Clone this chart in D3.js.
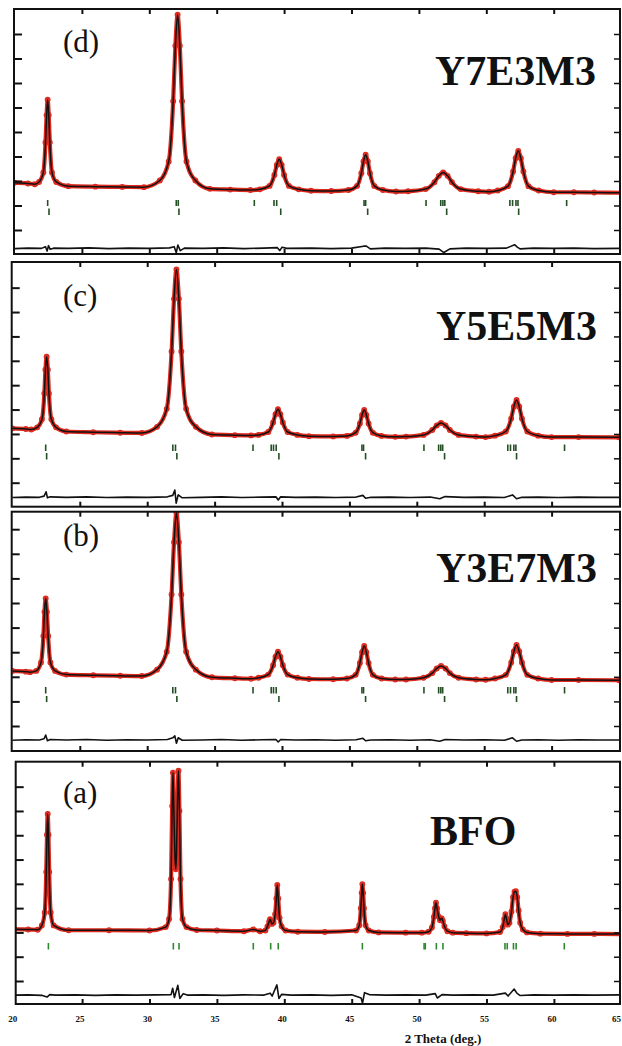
<!DOCTYPE html>
<html>
<head>
<meta charset="utf-8">
<script src="https://cdn.jsdelivr.net/npm/d3@7"></script>
<style>
  body { margin: 0; background: #fff; }
  svg { display: block; }
</style>
</head>
<body>
<svg id="chart" width="622" height="1046"></svg>
<script>
// ---- Labels and ticks ----
const panelTags = ["(d)", "(c)", "(b)", "(a)"];
const sampleNames = ["Y7E3M3", "Y5E5M3", "Y3E7M3", "BFO"];
const xTickValues = [20, 25, 30, 35, 40, 45, 50, 55, 60, 65];
const yTickValues = [0, 100, 200, 300, 400, 500, 600, 700, 800];
const xAxisTitle = "2 Theta (deg.)";

// ---- Profiles: [2θ (deg), intensity (a.u.)] ----
const profileD = [
  [20,193],[21,190],[21.5,187],
  [21.82,196],[22.14,235],[22.30,357],[22.38,469],[22.46,532],[22.54,469],[22.62,357],[22.78,235],[23.10,196],
  [24,179],[26,177],[28,176],[29.6,175],
  [30.78,202],[31.44,280],[31.77,526],[31.935,752],[32.1,879],[32.265,752],[32.43,526],[32.76,280],[33.42,202],
  [34.5,168],[36,165],[37.5,163],
  [38.2,166],[38.92,180],[39.28,225],[39.46,266],[39.64,289],[39.82,266],[40.0,225],[40.36,180],[41.08,166],
  [42,160],[43.5,159],
  [44.77,163],[45.41,180],[45.73,232],[45.89,280],[46.05,307],[46.21,280],[46.37,232],[46.69,180],[47.33,163],
  [48.3,157],
  [49.2,158],[50.5,167],[51.15,195],[51.48,221],[51.8,235],[52.13,221],[52.45,195],[53.1,167],[54.4,158],
  [55.2,156],
  [55.85,161],[56.61,179],[56.99,239],[57.18,293],[57.37,323],[57.56,293],[57.75,239],[58.13,179],[58.89,161],
  [60,154],[61.5,154],[63,153],[65,152]
];
const profileC = [
  [20,223],[21,220],[21.4,218],
  [21.84,227],[22.19,260],[22.37,366],[22.45,463],[22.54,517],[22.63,463],[22.71,366],[22.89,260],[23.24,227],
  [24,210],[26,207],[28,205],[29.6,204],
  [30.73,229],[31.45,303],[31.81,538],[31.99,754],[32.17,875],[32.35,754],[32.53,538],[32.89,303],[33.61,229],
  [34.8,198],[36.5,195],[37.7,194],
  [38.26,196],[38.98,208],[39.34,247],[39.52,281],[39.7,301],[39.88,281],[40.06,247],[40.42,208],[41.14,196],
  [42,191],[43.8,190],
  [44.82,192],[45.46,205],[45.78,243],[45.94,278],[46.1,298],[46.26,278],[46.42,243],[46.74,205],[47.38,192],
  [48.4,188],
  [49.2,189],[50.5,196],[51.15,216],[51.48,235],[51.8,245],[52.13,235],[52.45,216],[53.1,196],[54.4,189],
  [55.1,187],
  [55.8,193],[56.6,210],[57.0,263],[57.2,312],[57.4,339],[57.6,312],[57.8,263],[58.2,210],[59.0,193],
  [60,187],[62,187],[65,186]
];
const profileB = [
  [20,224],[21,221],[21.3,219],
  [21.77,224],[22.12,258],[22.30,366],[22.38,464],[22.47,519],[22.56,464],[22.65,366],[22.82,258],[23.17,224],
  [24,209],[26,206],[28,204],[29.6,203],
  [30.73,229],[31.45,302],[31.81,535],[31.99,747],[32.17,867],[32.35,747],[32.53,535],[32.89,302],[33.61,229],
  [34.8,198],[36.5,194],[37.7,192],
  [38.26,196],[38.98,209],[39.34,247],[39.52,282],[39.7,302],[39.88,282],[40.06,247],[40.42,209],[41.14,196],
  [42,191],[43.8,190],
  [44.82,193],[45.46,208],[45.78,256],[45.94,300],[46.1,325],[46.26,300],[46.42,256],[46.74,208],[47.38,193],
  [48.4,189],
  [49.2,189],[50.5,196],[51.15,215],[51.48,234],[51.8,244],[52.13,234],[52.45,215],[53.1,196],[54.4,189],
  [55.1,188],
  [55.8,193],[56.6,208],[57.0,258],[57.2,303],[57.4,329],[57.6,303],[57.8,258],[58.2,208],[59.0,193],
  [60,187],[62,187],[65,186]
];
const profileA = [
  [20,213],[21,212],[21.7,211],
  [22.01,229],[22.23,282],[22.34,449],[22.395,602],[22.45,688],[22.505,602],[22.56,449],[22.67,282],[22.89,229],
  [24,209],[27,209],[30,208],
  [31.2,222],[31.45,255],[31.6,420],[31.68,720],[31.74,858],[31.8,720],[31.9,500],[31.95,460],[32.0,520],
  [32.08,750],[32.15,866],[32.22,700],[32.3,420],[32.45,255],[32.75,222],
  [33.5,210],[35,208],[37,205],[37.7,212],[38.2,205],
  [38.6,208],[38.75,225],[38.88,245],[38.94,254],[39.0,248],[39.08,235],[39.2,240],[39.32,275],[39.41,340],
  [39.48,395],[39.55,340],[39.65,260],[39.8,225],[40.1,208],
  [41,203],[43,202],
  [45.32,208],[45.56,230],[45.68,300],[45.74,363],[45.79,399],[45.85,363],[45.91,300],[46.03,230],[46.27,208],
  [47,200],[49,199],[50.2,199],
  [50.7,203],[50.95,220],[51.1,265],[51.18,300],[51.25,322],[51.33,300],[51.45,265],[51.55,250],[51.62,256],
  [51.68,258],[51.76,248],[51.88,225],[52.1,205],[52.5,199],
  [53.5,197],[55,196],
  [56.0,202],[56.2,222],[56.32,255],[56.4,275],[56.48,258],[56.58,232],[56.7,240],[56.85,285],[56.97,345],
  [57.08,368],[57.18,370],[57.28,345],[57.38,290],[57.5,240],[57.7,212],[58.0,200],
  [59,195],[61,194],[63,194],[65,193]
];

// ---- Difference curves (obs - calc, offset) ----
const diffD = [
  [20,-76],[21,-74],[22,-75],[22.3,-68],[22.42,-86],[22.52,-64],[22.65,-79],[22.9,-74],[24,-75],[25.5,-73],
  [27,-76],[28.5,-74],[30,-75],[31.5,-73],[31.85,-68],[32.0,-93],[32.12,-61],[32.3,-84],[32.6,-74],[34,-75],
  [35.5,-73],[37,-76],[38.5,-74],[39.5,-72],[39.68,-84],[39.85,-70],[40.2,-75],[42,-74],[43.5,-76],[45,-74],
  [45.9,-66],[46.1,-66],[46.4,-77],[47.5,-74],[49,-75],[50.5,-74],[51.5,-78],[51.85,-92],[52.3,-77],[53.5,-74],
  [55,-75],[56.5,-74],[57.1,-60],[57.3,-70],[57.5,-77],[58.5,-74],[60,-75],[61.5,-74],[63,-76],[65,-75]
];
const diffC = [
  [20,-61],[21,-59],[22,-60],[22.35,-55],[22.5,-37],[22.6,-62],[22.8,-58],[24,-60],[25.5,-58],[27,-61],
  [28.5,-59],[30,-60],[31.5,-58],[31.9,-52],[32.05,-30],[32.15,-84],[32.3,-50],[32.6,-62],[34,-60],[35.5,-58],
  [37,-61],[38.5,-59],[39.55,-58],[39.72,-71],[39.9,-58],[41,-60],[42.5,-59],[44,-61],[45.5,-59],[46.0,-52],
  [46.2,-64],[46.6,-60],[48,-59],[49.5,-61],[51,-59],[51.7,-66],[52.1,-57],[53.5,-60],[55,-59],[56.5,-61],
  [57.1,-50],[57.4,-66],[57.8,-60],[59,-59],[60.5,-61],[62,-59],[63.5,-60],[65,-60]
];
const diffB = [
  [20,-58],[21,-56],[22,-57],[22.35,-52],[22.47,-37],[22.6,-60],[22.8,-55],[24,-57],[25.5,-55],[27,-58],
  [28.5,-56],[30,-57],[31.5,-55],[31.9,-48],[32.05,-40],[32.17,-70],[32.3,-48],[32.6,-58],[34,-57],[35.5,-55],
  [37,-58],[38.5,-56],[39.55,-55],[39.72,-65],[39.9,-55],[41,-57],[42.5,-56],[44,-58],[45.5,-56],[46.0,-50],
  [46.2,-60],[46.6,-57],[48,-56],[49.5,-58],[51,-56],[51.7,-62],[52.1,-55],[53.5,-57],[55,-56],[56.5,-58],
  [57.1,-48],[57.4,-62],[57.8,-57],[59,-56],[60.5,-58],[62,-56],[63.5,-57],[65,-57]
];
const diffA = [
  [20,-58],[21,-57],[22,-59],[22.4,-66],[22.6,-56],[23,-58],[24.5,-57],[26,-59],[27.5,-57],[29,-58],
  [30.5,-57],[31.6,-56],[31.72,-30],[31.85,-68],[32.1,-18],[32.25,-72],[32.5,-52],[32.8,-58],[34,-57],[35.5,-59],
  [37,-57],[38.5,-58],[38.95,-50],[39.1,-62],[39.45,-16],[39.6,-72],[39.8,-55],[40.5,-58],[42,-57],[43.5,-59],
  [45,-57],[45.7,-70],[45.8,-92],[45.95,-48],[46.3,-56],[47.5,-58],[49,-57],[50.5,-58],[51.2,-52],[51.35,-70],
  [51.7,-56],[52.5,-58],[54,-57],[55.5,-58],[56.4,-50],[56.6,-62],[57.05,-33],[57.25,-50],[57.5,-60],[58.5,-57],
  [60,-58],[61.5,-57],[63,-58],[65,-57]
];

// ---- Bragg reflection positions (2θ) ----
const braggD1 = [22.46,32.0,32.15,37.79,39.25,39.45,45.93,46.05,50.53,51.62,51.78,51.92,56.75,56.95,57.2,57.35,60.96];
const braggD2 = [22.56,32.2,39.75,46.2,52.06,57.4];
const braggC1 = [22.47,31.9,32.1,37.85,39.2,39.37,39.57,45.93,46.05,50.53,51.62,51.78,51.92,56.75,56.95,57.2,57.35,60.96];
const braggC2 = [22.54,32.2,39.77,46.2,52.06,57.4];
const braggB1 = [22.47,31.9,32.1,37.85,39.2,39.37,39.57,45.93,46.05,50.53,51.62,51.78,51.92,56.75,56.95,57.2,57.35,60.96];
const braggB2 = [22.54,32.2,39.77,46.2,52.06,57.4];
const braggA1 = [22.5,31.77,32.19,37.7,38.99,39.55,45.79,50.37,50.46,51.28,51.77,56.37,56.54,57.0,57.2,60.77];

// ---- Panel layout ----
const pxPerDeg = 13.48;
const panels = [
  { key: "d", tag: panelTags[0], name: sampleNames[0], profile: profileD, diff: diffD,
    bragg: [braggD1, braggD2], braggColor: "#244f24",
    frame: { l: 14, r: 620, t: 9, b: 254 }, x20: 14.5, tick0: 230, tickStep: 24.5,
    braggY: [[200, 206], [208.5, 215]], tagY: 52, nameX: 435, nameY: 85 },
  { key: "c", tag: panelTags[1], name: sampleNames[1], profile: profileC, diff: diffC,
    bragg: [braggC1, braggC2], braggColor: "#244f24",
    frame: { l: 11.7, r: 620, t: 262, b: 506.7 }, x20: 12.4, tick0: 482.7, tickStep: 24.38,
    braggY: [[444.5, 451], [453, 459.5]], tagY: 306, nameX: 436, nameY: 340 },
  { key: "b", tag: panelTags[2], name: sampleNames[2], profile: profileB, diff: diffB,
    bragg: [braggB1, braggB2], braggColor: "#244f24",
    frame: { l: 11.7, r: 620, t: 511.7, b: 751 }, x20: 12.4, tick0: 726, tickStep: 24.6,
    braggY: [[687, 693.5], [696, 702]], tagY: 546, nameX: 436, nameY: 582 },
  { key: "a", tag: panelTags[3], name: sampleNames[3], profile: profileA, diff: diffA,
    bragg: [braggA1], braggColor: "#2f8a2f",
    frame: { l: 15.7, r: 620, t: 761.7, b: 1004 }, x20: 14.7, tick0: 981, tickStep: 24.29,
    braggY: [[943, 949.5]], tagY: 803, nameX: 430, nameY: 845 }
];

const svg = d3.select("#chart");
const defs = svg.append("defs");
const RED = "#dd2a1f";
const serif = "'Liberation Serif', 'Times New Roman', serif";

panels.forEach(p => {
  const f = p.frame;
  const x = d3.scaleLinear().domain([20, 65]).range([p.x20, p.x20 + 45 * pxPerDeg]);
  const y = d3.scaleLinear().domain([0, 100]).range([p.tick0, p.tick0 - p.tickStep]);

  const clipId = "clip-" + p.key;
  defs.append("clipPath").attr("id", clipId)
    .append("rect").attr("x", f.l).attr("y", f.t).attr("width", f.r - f.l).attr("height", f.b - f.t);

  const g = svg.append("g").attr("class", "panel-" + p.key);
  const body = g.append("g").attr("clip-path", `url(#${clipId})`);

  const line = d3.line().x(d => x(d[0])).y(d => y(d[1])).curve(d3.curveMonotoneX);

  // observed band
  body.append("path").datum(p.profile)
    .attr("d", line).attr("fill", "none")
    .attr("stroke", RED).attr("stroke-width", 4.2).attr("stroke-linejoin", "round");

  // observed points
  body.append("g").selectAll("circle").data(p.profile).join("circle")
    .attr("cx", d => x(d[0])).attr("cy", d => y(d[1])).attr("r", 2.3)
    .attr("fill", "none").attr("stroke", RED).attr("stroke-width", 1.3);

  // calculated profile
  body.append("path").datum(p.profile)
    .attr("d", line).attr("fill", "none")
    .attr("stroke", "#111").attr("stroke-width", 1.5).attr("stroke-linejoin", "round");

  // Bragg positions
  p.bragg.forEach((row, i) => {
    const [y0, y1] = p.braggY[i];
    body.append("g").selectAll("line").data(row).join("line")
      .attr("x1", d => x(d)).attr("x2", d => x(d))
      .attr("y1", y0).attr("y2", y1)
      .attr("stroke", p.braggColor).attr("stroke-width", 1.6);
  });

  // difference curve
  body.append("path").datum(p.diff)
    .attr("d", d3.line().x(d => x(d[0])).y(d => y(d[1])))
    .attr("fill", "none").attr("stroke", "#111").attr("stroke-width", 1.6)
    .attr("stroke-linejoin", "round");

  // inward ticks
  const axisStyle = sel => {
    sel.select(".domain").remove();
    sel.selectAll(".tick line").attr("stroke", "#111").attr("stroke-width", 2);
    sel.selectAll(".tick text").remove();
  };
  g.append("g").attr("transform", `translate(${f.l},0)`)
    .call(d3.axisLeft(y).tickValues(yTickValues).tickSize(-8)).call(axisStyle);
  g.append("g").attr("transform", `translate(${f.r},0)`)
    .call(d3.axisRight(y).tickValues(yTickValues).tickSize(-6)).call(axisStyle)
    .selectAll(".tick line").attr("stroke-width", 1.5);
  const innerX = xTickValues.filter(v => v > 20 && v < 65);
  g.append("g").attr("transform", `translate(0,${f.t})`)
    .call(d3.axisTop(x).tickValues(innerX).tickSize(-5)).call(axisStyle);
  g.append("g").attr("transform", `translate(0,${f.b})`)
    .call(d3.axisBottom(x).tickValues(innerX).tickSize(-5)).call(axisStyle);

  // frame
  g.append("rect").attr("x", f.l).attr("y", f.t)
    .attr("width", f.r - f.l).attr("height", f.b - f.t)
    .attr("fill", "none").attr("stroke", "#111").attr("stroke-width", 2);

  // labels
  g.append("text").attr("x", 63).attr("y", p.tagY)
    .attr("font-family", serif).attr("font-size", 31).attr("fill", "#111")
    .text(p.tag);
  g.append("text").attr("x", p.nameX).attr("y", p.nameY)
    .attr("font-family", serif).attr("font-size", 42).attr("font-weight", "bold").attr("fill", "#111")
    .text(p.name);

  // x-axis labels under the bottom panel
  if (p.key === "a") {
    svg.append("g").selectAll("text").data(xTickValues).join("text")
      .attr("x", d => d === 65 ? 621 : x(d) - 2).attr("y", 1021.5)
      .attr("text-anchor", d => d === 65 ? "end" : "middle")
      .attr("font-family", serif).attr("font-size", 9).attr("font-weight", "bold").attr("fill", "#111")
      .text(d => d);
    svg.append("text").attr("x", 443).attr("y", 1043)
      .attr("text-anchor", "middle")
      .attr("font-family", serif).attr("font-size", 13).attr("font-weight", "bold").attr("fill", "#111")
      .text(xAxisTitle);
  }
});
</script>
</body>
</html>
